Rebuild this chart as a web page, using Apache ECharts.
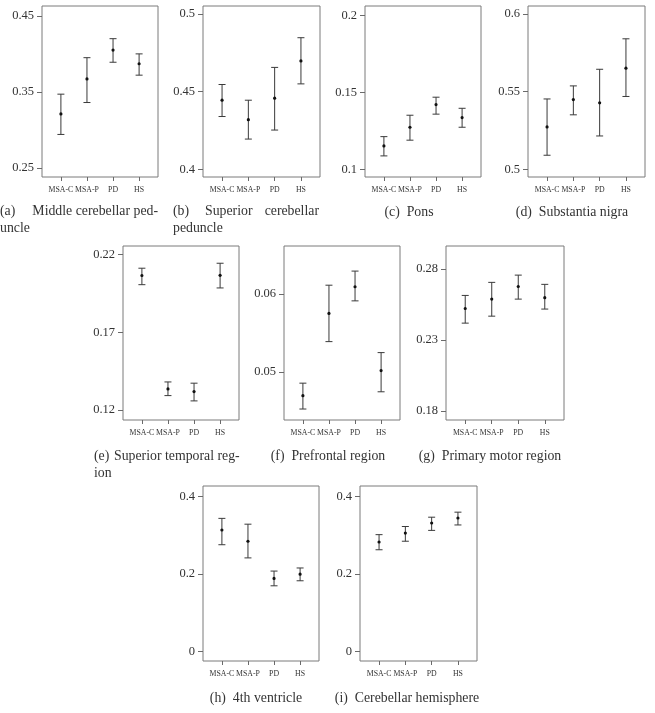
<!DOCTYPE html>
<html>
<head>
<meta charset="utf-8">
<script src="https://cdn.jsdelivr.net/npm/echarts@6/dist/echarts.min.js"></script>
<style>
  html, body { margin: 0; padding: 0; background: #fff; }
  #chart { width: 655px; height: 713px; }
</style>
</head>
<body>
<div id="chart"></div>
<script>
// groups on every x axis
const groups = ['MSA-C', 'MSA-P', 'PD', 'HS'];

// (a) middle cerebellar peduncle
const aMean = [0.321, 0.367, 0.405, 0.387];
const aLow = [0.294, 0.336, 0.389, 0.372];
const aHigh = [0.347, 0.395, 0.420, 0.400];
const aTicks = [0.25, 0.35, 0.45];
// (b) superior cerebellar peduncle
const bMean = [0.4444, 0.4319, 0.4457, 0.4697];
const bLow = [0.4339, 0.4194, 0.4252, 0.4549];
const bHigh = [0.4545, 0.4444, 0.4655, 0.4846];
const bTicks = [0.4, 0.45, 0.5];
// (c) pons
const cMean = [0.1152, 0.1273, 0.1420, 0.1336];
const cLow = [0.1087, 0.1189, 0.1358, 0.1273];
const cHigh = [0.1212, 0.1351, 0.1468, 0.1396];
const cTicks = [0.1, 0.15, 0.2];
// (d) substantia nigra
const dMean = [0.5272, 0.5448, 0.5427, 0.5650];
const dLow = [0.5090, 0.5350, 0.5214, 0.5468];
const dHigh = [0.5452, 0.5536, 0.5643, 0.5839];
const dTicks = [0.5, 0.55, 0.6];
// (e) superior temporal region
const eMean = [0.2065, 0.1335, 0.1318, 0.2066];
const eLow = [0.2006, 0.1292, 0.1258, 0.1985];
const eHigh = [0.2112, 0.1380, 0.1372, 0.2144];
const eTicks = [0.12, 0.17, 0.22];
// (f) prefrontal region
const fMean = [0.0470, 0.0575, 0.0609, 0.0502];
const fLow = [0.0453, 0.0539, 0.0591, 0.0475];
const fHigh = [0.0486, 0.0611, 0.0629, 0.0525];
const fTicks = [0.05, 0.06];
// (g) primary motor region
const gMean = [0.2521, 0.2587, 0.2676, 0.2597];
const gLow = [0.2418, 0.2467, 0.2587, 0.2517];
const gHigh = [0.2613, 0.2705, 0.2756, 0.2691];
const gTicks = [0.18, 0.23, 0.28];
// (h) 4th ventricle
const hMean = [0.313, 0.284, 0.188, 0.199];
const hLow = [0.275, 0.241, 0.169, 0.182];
const hHigh = [0.343, 0.328, 0.207, 0.215];
const hTicks = [0, 0.2, 0.4];
// (i) cerebellar hemisphere
const iMean = [0.282, 0.305, 0.331, 0.344];
const iLow = [0.262, 0.284, 0.312, 0.326];
const iHigh = [0.301, 0.322, 0.346, 0.359];
const iTicks = [0, 0.2, 0.4];

const FONT = '"Liberation Serif", "Times New Roman", serif';
const chart = echarts.init(document.getElementById('chart'));

// box = [left, top, width, height] in px, range = y axis extent
const panels = [
  { mean: aMean, low: aLow, high: aHigh, ticks: aTicks, box: [42, 6, 116, 171], range: [0.238, 0.463] },
  { mean: bMean, low: bLow, high: bHigh, ticks: bTicks, box: [203, 6, 117, 171], range: [0.395, 0.505] },
  { mean: cMean, low: cLow, high: cHigh, ticks: cTicks, box: [365, 6, 116, 171], range: [0.095, 0.206] },
  { mean: dMean, low: dLow, high: dHigh, ticks: dTicks, box: [528, 6, 117, 171], range: [0.495, 0.605] },
  { mean: eMean, low: eLow, high: eHigh, ticks: eTicks, box: [123, 246, 116, 174], range: [0.1135, 0.2255] },
  { mean: fMean, low: fLow, high: fHigh, ticks: fTicks, box: [284, 246, 116, 174], range: [0.0439, 0.0661] },
  { mean: gMean, low: gLow, high: gHigh, ticks: gTicks, box: [446, 246, 118, 174], range: [0.1736, 0.2961] },
  { mean: hMean, low: hLow, high: hHigh, ticks: hTicks, box: [203, 486, 116, 175], range: [-0.025, 0.4265] },
  { mean: iMean, low: iLow, high: iHigh, ticks: iTicks, box: [360, 486, 117, 175], range: [-0.025, 0.4265] }
];

function renderBar(params, api) {
  const x = api.value(0);
  const top = api.coord([x, api.value(2)]);
  const bot = api.coord([x, api.value(1)]);
  const mid = api.coord([x, api.value(3)]);
  const w = 3.5;
  const style = { stroke: '#3a3a3a', lineWidth: 1 };
  return {
    type: 'group',
    children: [
      { type: 'line', shape: { x1: top[0], y1: top[1], x2: bot[0], y2: bot[1] }, style },
      { type: 'line', shape: { x1: top[0] - w, y1: top[1], x2: top[0] + w, y2: top[1] }, style },
      { type: 'line', shape: { x1: bot[0] - w, y1: bot[1], x2: bot[0] + w, y2: bot[1] }, style },
      { type: 'circle', shape: { cx: mid[0], cy: mid[1], r: 1.6 }, style: { fill: '#111' } }
    ]
  };
}

// two stacked x axes per panel (odd / even groups) so that close labels are all kept
function groupAxis(k, vals) {
  return {
    type: 'value', gridIndex: k, position: 'bottom', offset: 0, min: 0.275, max: 4.725,
    splitLine: { show: false }, axisLine: { show: false, onZero: false },
    axisTick: { show: true, length: 4, customValues: vals, lineStyle: { color: '#6a6a6a' } },
    axisLabel: {
      customValues: vals, margin: 8.5,
      showMinLabel: true, showMaxLabel: true,
      formatter: v => groups[Math.round(v) - 1],
      fontFamily: FONT, fontSize: 7.8, color: '#333'
    }
  };
}

const grid = [], xAxis = [], yAxis = [], series = [];
panels.forEach((p, k) => {
  grid.push({
    left: p.box[0], top: p.box[1], width: p.box[2], height: p.box[3],
    show: true, borderColor: '#7a7a7a', borderWidth: 1, backgroundColor: 'transparent'
  });
  xAxis.push(groupAxis(k, [1, 3]), groupAxis(k, [2, 4]));
  yAxis.push({
    type: 'value', gridIndex: k, min: p.range[0], max: p.range[1],
    splitLine: { show: false }, axisLine: { show: false, onZero: false },
    axisTick: { show: true, length: 5, customValues: p.ticks, lineStyle: { color: '#6a6a6a' } },
    axisLabel: {
      customValues: p.ticks, margin: 8,
      showMinLabel: true, showMaxLabel: true,
      formatter: v => String(v),
      fontFamily: FONT, fontSize: 12.5, color: '#333'
    }
  });
  series.push({
    type: 'custom', xAxisIndex: 2 * k, yAxisIndex: k, silent: true,
    renderItem: renderBar,
    encode: { x: 0, y: [1, 2, 3] },
    data: groups.map((g, j) => [j + 1, p.low[j], p.high[j], p.mean[j]])
  });
});

const capFont = '13.8px ' + FONT;
function cap(text, x, y, align) {
  return {
    type: 'text', x: x, y: y, silent: true,
    style: { text: text, font: capFont, fill: '#333', align: align || 'left', verticalAlign: 'middle' }
  };
}

chart.setOption({
  animation: false,
  grid: grid,
  xAxis: xAxis,
  yAxis: yAxis,
  series: series,
  graphic: [
    cap('(a)', 0, 211), cap('Middle cerebellar ped-', 158, 211, 'right'), cap('uncle', 0, 228),
    cap('(b)', 173, 211), cap('Superior', 205, 211), cap('cerebellar', 319, 211, 'right'), cap('peduncle', 173, 228),
    cap('(c)  Pons', 409, 212, 'center'),
    cap('(d)  Substantia nigra', 572, 212, 'center'),
    cap('(e)', 94, 456), cap('Superior temporal reg-', 114, 456), cap('ion', 94, 473),
    cap('(f)  Prefrontal region', 328, 456, 'center'),
    cap('(g)  Primary motor region', 490, 456, 'center'),
    cap('(h)  4th ventricle', 256, 698, 'center'),
    cap('(i)  Cerebellar hemisphere', 407, 698, 'center')
  ]
});
</script>
</body>
</html>
